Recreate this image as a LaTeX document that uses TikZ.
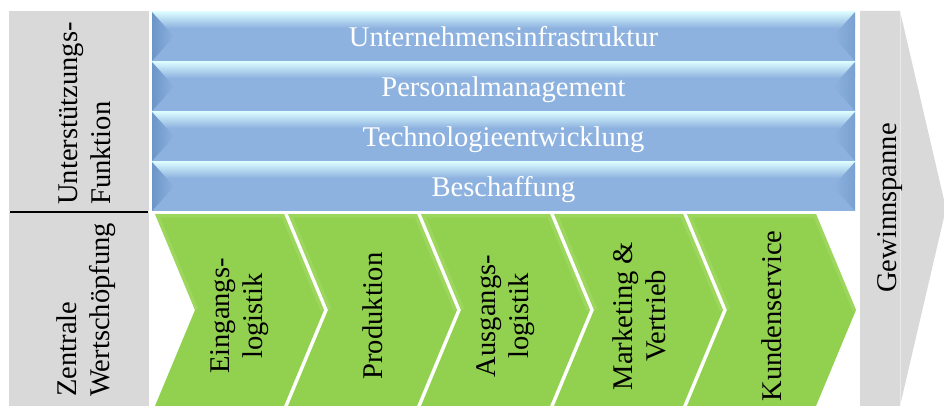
\documentclass[tikz,border=0pt]{standalone}
\usepackage{fontspec}
\setmainfont{Liberation Serif}
\usetikzlibrary{positioning}

\definecolor{barblue}{HTML}{8DB2DF}
\definecolor{barhi}{HTML}{DAFAFF}
\definecolor{bardark}{HTML}{6C95C7}
\definecolor{chevgreen}{HTML}{92D050}
\definecolor{chevlight}{HTML}{A9DE6E}
\definecolor{boxgray}{HTML}{D9D9D9}

\tikzset{
  txt/.style={font=\fontsize{20.3}{23.5}\selectfont, inner sep=0pt},
  bartxt/.style={txt, text=white, anchor=base},
  sidetxt/.style={txt, rotate=90, align=left, anchor=west},
  chevtxt/.style={txt, rotate=90, align=center}
}

\begin{document}
\begin{tikzpicture}[x=0.025cm, y=-0.025cm]
  \useasboundingbox (0,0) rectangle (944,406);

  % left column with the two row titles
  \fill[boxgray] (9,11) rectangle (149,211.5);
  \fill[boxgray] (9,212.5) rectangle (149,406);
  \draw[black, line width=0.8pt] (10,212) -- (148,212);
  \node[sidetxt] (supp) at (85,205) {Unterstützungs-\\Funktion};
  \node[sidetxt] (prim) at (86,397) {Zentrale\\Wertschöpfung};

  % support activities (blue bars)
  \foreach \i/\name in {0/Unternehmensinfrastruktur, 1/Personalmanagement,
                        2/Technologieentwicklung, 3/Beschaffung} {
    \fill[barblue] (152,{12+50*\i}) rectangle (855,{61+50*\i});
    \shade[top color=barhi, bottom color=barblue] (152,{12+50*\i}) rectangle (855,{28+50*\i});
    \shade[left color=bardark, right color=barblue] (152,{12+50*\i}) -- (174,{36.5+50*\i}) -- (152,{61+50*\i}) -- cycle;
    \shade[left color=barblue, right color=bardark!60!barblue] (855,{12+50*\i}) -- (833,{36.5+50*\i}) -- (855,{61+50*\i}) -- cycle;
    \node[bartxt] (s\i) at (503.5,{47+50*\i}) {\name};
  }

  % primary activities (green chevrons)
  \foreach \i/\lbl in {0/{Eingangs-\\logistik}, 1/Produktion, 2/{Ausgangs-\\logistik},
                       3/{Marketing \&\\Vertrieb}, 4/Kundenservice} {
    \begin{scope}
      \path[clip] ({155+133*\i},214) -- ++(129,0) -- ++(40,96) -- ++(-40,96) -- ++(-129,0) -- ++(40,-96) -- cycle;
      \fill[chevgreen] ({155+133*\i},214) rectangle ++(170,192);
      \draw[chevlight, line width=5pt, opacity=0.45, line join=round]
        ({195+133*\i},310) -- ({155+133*\i},214) -- ++(129,0) -- ++(40,96);
    \end{scope}
    \node[chevtxt] (p\i) at ({240+133*\i},316) {\lbl};
  }

  % margin arrow on the right
  \fill[boxgray] (860,11) -- (900,11) -- (946,208.5) -- (900,406) -- (860,406) -- cycle;
  \draw[white, opacity=0.45, line width=0.6pt] (900,12) -- (900,405);
  \node[txt, rotate=90] (margin) at (890,208) {Gewinnspanne};
\end{tikzpicture}
\end{document}
